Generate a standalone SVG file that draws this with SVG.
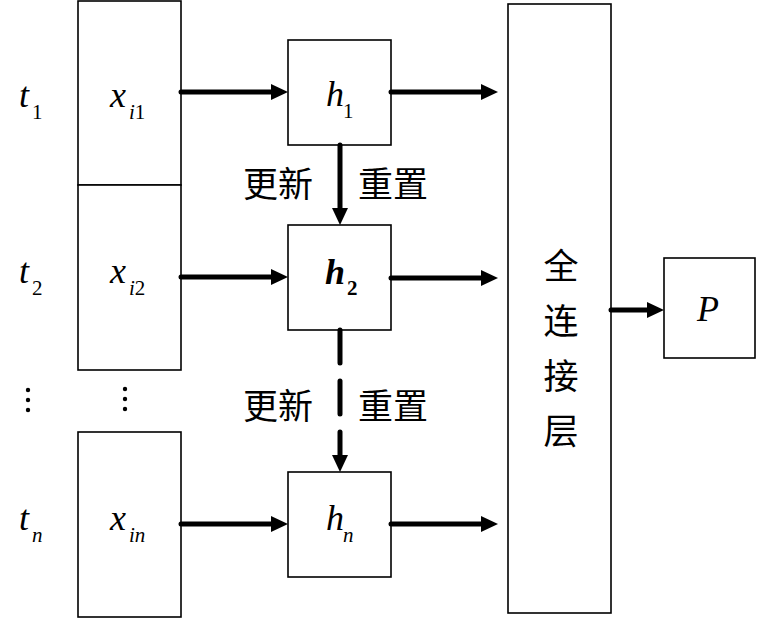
<svg xmlns="http://www.w3.org/2000/svg" width="764" height="618" viewBox="0 0 764 618">
<style>
.box{fill:#fff;stroke:#000;stroke-width:1.6}
.ar{stroke:#000;stroke-width:5;fill:none;stroke-linecap:round}
.m{font-family:'Liberation Serif',serif;font-style:italic;font-size:36px;fill:#000}
.sub{font-size:21px}
.up{font-style:normal}
.cn{font-family:'Noto Sans CJK SC',sans-serif;font-size:35px;fill:#000}
.dot{fill:#000}
</style>
<defs>
<marker id="ah" markerUnits="userSpaceOnUse" markerWidth="18" markerHeight="18" refX="4" refY="8" orient="auto">
<path d="M0,0 L17,8 L0,16 z" fill="#000"/>
</marker>
</defs>
<rect width="764" height="618" fill="#fff"/>

<g id="labels-t">
<text class="m" x="19" y="107">t</text><text class="m sub up" x="32" y="119">1</text>
<text class="m" x="19" y="283">t</text><text class="m sub up" x="32" y="295">2</text>
<text class="m" x="19" y="530">t</text><text class="m sub" x="32" y="542">n</text>
<circle class="dot" cx="28" cy="390" r="2.2"/><circle class="dot" cx="28" cy="400" r="2.2"/><circle class="dot" cx="28" cy="410" r="2.2"/>
<circle class="dot" cx="125" cy="389" r="2.2"/><circle class="dot" cx="125" cy="399" r="2.2"/><circle class="dot" cx="125" cy="409" r="2.2"/>
</g>

<g id="x1"><rect class="box" x="78" y="1" width="103" height="184"/>
<text class="m" x="110" y="107">x</text><text class="m sub" x="129" y="119">i<tspan class="up">1</tspan></text></g>
<g id="x2"><rect class="box" x="78" y="185" width="103" height="185"/>
<text class="m" x="110" y="283">x</text><text class="m sub" x="129" y="295">i<tspan class="up">2</tspan></text></g>
<g id="xn"><rect class="box" x="78" y="432" width="103" height="185"/>
<text class="m" x="110" y="530">x</text><text class="m sub" x="129" y="542">in</text></g>

<g id="h1"><rect class="box" x="288" y="40" width="103" height="105"/>
<text class="m" x="326" y="106">h</text><text class="m sub up" x="343" y="118">1</text></g>
<g id="h2"><rect class="box" x="288" y="225" width="103" height="105"/>
<text class="m" font-weight="bold" x="325" y="284">h</text><text class="m sub up" font-weight="bold" x="347" y="295">2</text></g>
<g id="hn"><rect class="box" x="288" y="472" width="103" height="105"/>
<text class="m" x="326" y="530">h</text><text class="m sub" x="343" y="542">n</text></g>

<g id="fc"><rect class="box" x="508" y="4" width="103" height="609"/>
<text class="cn" x="561" y="279" text-anchor="middle">全</text>
<text class="cn" x="561" y="334" text-anchor="middle">连</text>
<text class="cn" x="561" y="389" text-anchor="middle">接</text>
<text class="cn" x="561" y="444" text-anchor="middle">层</text></g>

<g id="P"><rect class="box" x="664" y="258" width="91" height="100"/>
<text class="m" x="697" y="321">P</text></g>

<g id="edge-labels">
<text class="cn" x="243" y="197">更新</text>
<text class="cn" x="358" y="197">重置</text>
<text class="cn" x="243" y="419">更新</text>
<text class="cn" x="358" y="419">重置</text>
</g>

<g id="connectors">
<line class="ar" x1="181" y1="92" x2="275" y2="92" marker-end="url(#ah)"/>
<line class="ar" x1="181" y1="277" x2="275" y2="277" marker-end="url(#ah)"/>
<line class="ar" x1="181" y1="524" x2="275" y2="524" marker-end="url(#ah)"/>
<line class="ar" x1="391" y1="92" x2="485" y2="92" marker-end="url(#ah)"/>
<line class="ar" x1="391" y1="278" x2="485" y2="278" marker-end="url(#ah)"/>
<line class="ar" x1="391" y1="524" x2="485" y2="524" marker-end="url(#ah)"/>
<line class="ar" x1="340" y1="145" x2="340" y2="212" marker-end="url(#ah)"/>
<line class="ar" x1="340" y1="330" x2="340" y2="363"/>
<line class="ar" x1="340" y1="381" x2="340" y2="414"/>
<line class="ar" x1="340" y1="432" x2="340" y2="459" marker-end="url(#ah)"/>
<line class="ar" x1="611" y1="310" x2="651" y2="310" marker-end="url(#ah)"/>
</g>
</svg>
